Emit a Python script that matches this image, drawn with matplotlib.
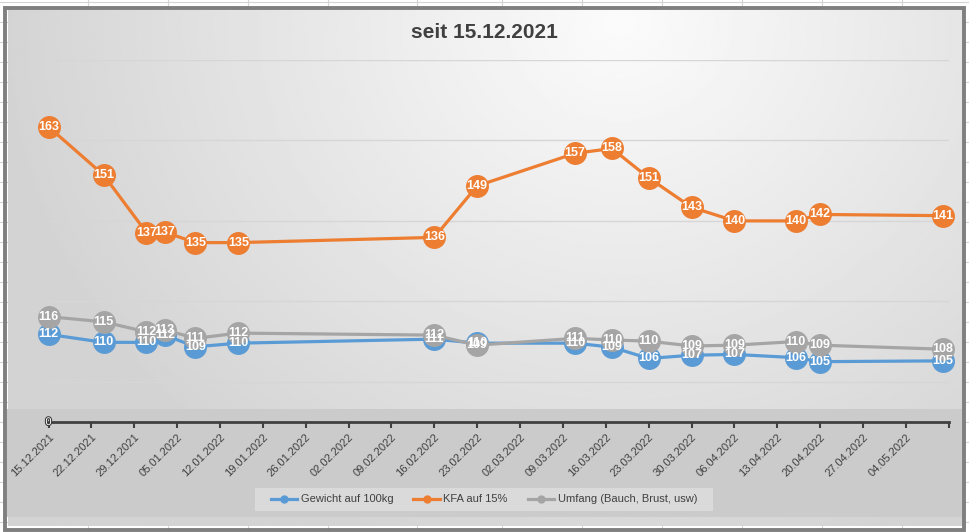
import matplotlib
matplotlib.use("Agg")
import matplotlib.pyplot as plt
import matplotlib.patheffects as pe
from matplotlib.patches import Rectangle
import numpy as np
import pandas as pd

# Messdaten
datum = ["15.12.2021", "24.12.2021", "31.12.2021", "03.01.2022", "08.01.2022",
         "15.01.2022", "16.02.2022", "23.02.2022", "11.03.2022", "17.03.2022",
         "23.03.2022", "30.03.2022", "06.04.2022", "16.04.2022", "20.04.2022",
         "10.05.2022"]
gewicht = [111.8, 109.8, 109.8, 111.6, 108.7, 109.6, 110.6, 109.6, 109.6, 108.6,
           105.8, 106.6, 106.8, 106.0, 105.0, 105.2]
kfa = [163.4, 151.4, 137.1, 137.2, 134.6, 134.6, 135.9, 148.7, 156.8, 158.0,
       150.7, 143.4, 140.0, 140.0, 141.6, 141.3]
umfang = [116.2, 114.9, 112.4, 112.9, 110.8, 112.1, 111.6, 109.1, 110.8, 110.4,
          110.1, 108.9, 109.1, 110.0, 109.1, 108.1]

serien = [
    ("Gewicht auf 100kg", gewicht, "#5B9BD5"),
    ("KFA auf 15%", kfa, "#ED7D31"),
    ("Umfang (Bauch, Brust, usw)", umfang, "#A5A5A5"),
]

titel = "seit 15.12.2021"
start = "15.12.2021"
ende = "11.05.2022"

x = pd.to_datetime(datum, format="%d.%m.%Y")
ticks = pd.date_range(pd.to_datetime(start, format="%d.%m.%Y"),
                      pd.to_datetime(ende, format="%d.%m.%Y"), freq="7D")
tick_labels = [t.strftime("%d.%m.%Y") for t in ticks[:-1]] + [""]

W, H = 970, 532
fig = plt.figure(figsize=(W / 100, H / 100), dpi=100)
fig.patch.set_facecolor("white")

schmal = ["Liberation Sans Narrow", "DejaVu Sans Condensed", "Liberation Sans"]

# Hintergrund: Excel-Zellen, Diagrammbereich, Verlauf
bg = fig.add_axes([0, 0, 1, 1])
bg.set_xlim(0, W)
bg.set_ylim(H, 0)
bg.axis("off")
for yy in np.arange(2, H, 20):
    bg.axhline(yy, color="#d4d4d4", lw=0.8, zorder=0)
for xx in [88, 168, 248, 328, 417, 502, 582, 662, 742, 822, 902]:
    bg.axvline(xx, color="#d4d4d4", lw=0.8, zorder=0)

gx, gy = np.meshgrid(np.linspace(8, 964, 300), np.linspace(8, 526, 200))
r = np.sqrt(((gx - 620) / 600) ** 2 + ((gy - 20) / 540) ** 2)
grad = np.clip(0.985 - 0.15 * r, 0.83, 1)
bg.imshow(grad, cmap="gray", vmin=0, vmax=1, extent=(8, 964, 526, 8),
          aspect="auto", interpolation="bilinear", zorder=1)
bg.add_patch(Rectangle((7.5, 409), 955, 108, facecolor="#cbcbcb",
                       edgecolor="none", zorder=2))
bg.add_patch(Rectangle((255, 488), 458, 23, facecolor="#dadada",
                       edgecolor="none", zorder=3))
bg.add_patch(Rectangle((5.5, 7.5), 959, 522, facecolor="none",
                       edgecolor="#7f7f7f", lw=2.8, zorder=4))

# Diagramm
ax = fig.add_axes([48.5 / W, 1 - 422 / H, (948.7 - 48.5) / W, (422 - 60) / H])
ax.patch.set_alpha(0)
ax.set_ylim(90, 180)
ax.set_xlim(ticks[0], ticks[-1])
ax.set_yticks([100, 120, 140, 160, 180])
ax.yaxis.grid(True, color="#d6d6d6", lw=1)
ax.tick_params(axis="y", length=0, labelleft=False)
ax.set_axisbelow(True)
for s in ["left", "right", "top"]:
    ax.spines[s].set_visible(False)
ax.spines["bottom"].set_color("#404040")
ax.spines["bottom"].set_linewidth(2)
ax.spines["bottom"].set_zorder(6)

ax.set_xticks(ticks)
ax.set_xticklabels(tick_labels, rotation=45, ha="right", va="top",
                   rotation_mode="anchor", family=schmal, fontsize=8,
                   color="#404040")
ax.tick_params(axis="x", length=4, width=1.5, color="#404040", pad=3)

for i, (name, werte, farbe) in enumerate(serien):
    ax.plot(x, werte, color=farbe, lw=2.3, marker="o", markersize=15.5,
            markerfacecolor=farbe, markeredgecolor=farbe, label=name,
            zorder=3 + i, clip_on=False)
for name, werte, farbe in serien:
    for xi, v in zip(x, werte):
        ax.text(xi, v, f"{v:.0f}", ha="center", va="center", color="white",
                fontsize=9, fontweight="bold", family=schmal, zorder=10)

ax.text(ticks[0], 90, "0", ha="center", va="center", color="white",
        fontsize=8, family=schmal, zorder=11,
        path_effects=[pe.withStroke(linewidth=1.5, foreground="#333333")])

fig.text(484 / W, 1 - 33 / H, titel, ha="center", va="center",
         fontsize=15, fontweight="bold", color="#404040",
         family=["Liberation Sans", "DejaVu Sans"])

leg = fig.legend(*ax.get_legend_handles_labels(), loc="center",
                 bbox_to_anchor=(484 / W, 1 - 499.5 / H), ncol=3,
                 frameon=False, handlelength=2.4, columnspacing=1.8,
                 handletextpad=0.3, prop={"family": schmal, "size": 8})
for h in leg.legend_handles:
    h.set_markersize(5)
    h.set_linewidth(2.3)
for t in leg.get_texts():
    t.set_color("#404040")

fig.savefig("out.png", dpi=100)
